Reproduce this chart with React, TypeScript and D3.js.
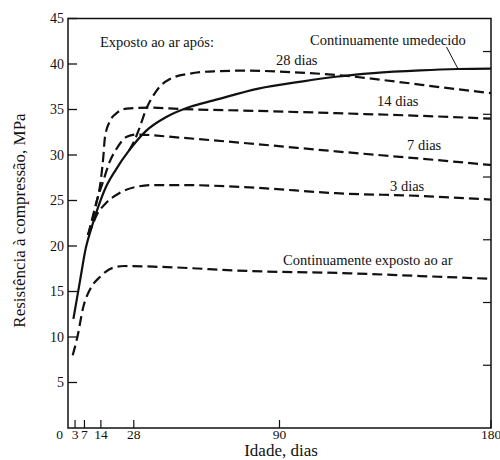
import React from "react";
import * as d3 from "d3";

// Compressive strength (MPa) versus age (days) under different curing regimes.
type Pt = [number, number];

const moistCured: Pt[] = [
  [2.3, 12.0], [5, 16.0], [7.6, 19.8], [10, 22.0], [12.6, 24.1], [16, 26.4],
  [20.4, 28.4], [26, 30.5], [33, 32.6], [42, 34.2], [52, 35.3], [62, 36.0],
  [81, 37.3], [100, 38.1], [114, 38.6], [130, 39.0], [150, 39.3], [166, 39.45], [180, 39.5],
];

const airAfter28: Pt[] = [
  [26, 30.5], [28.5, 31.7], [30.6, 33.1], [33.5, 35.2], [36, 36.4], [39, 37.5],
  [43, 38.3], [52, 38.95], [62, 39.2], [76, 39.27], [95, 39.1], [114, 38.8],
  [140, 38.05], [160, 37.4], [180, 36.8],
];

const airAfter14: Pt[] = [
  [8.5, 21.2], [9.5, 22.0], [11.9, 24.5], [14, 27.3], [15.1, 30.0], [15.7, 31.9],
  [17.8, 33.7], [20.7, 34.6], [25, 35.1], [35, 35.2], [48, 35.05], [80, 34.85],
  [114, 34.6], [150, 34.3], [180, 34.0],
];

const airAfter7: Pt[] = [
  [8.5, 21.2], [10.5, 23.2], [12.5, 25.2], [14.7, 26.9], [17.8, 29.3], [20.7, 30.7],
  [25, 32.0], [29, 32.25], [48, 31.9], [80, 31.2], [114, 30.4], [150, 29.6], [180, 28.9],
];

const airAfter3: Pt[] = [
  [8.5, 21.2], [9.8, 21.9], [12, 23.3], [16.1, 24.7], [21.8, 25.8], [28.2, 26.45],
  [36, 26.7], [48, 26.7], [80, 26.4], [114, 25.8], [150, 25.5], [180, 25.1],
];

const airOnly: Pt[] = [
  [2, 8.0], [4, 10.0], [6.5, 13.3], [9.3, 15.2], [13.6, 16.6], [19, 17.6],
  [24, 17.8], [40, 17.7], [77, 17.25], [120, 17.0], [150, 16.7], [180, 16.4],
];

const xTickValues = [0, 3, 7, 14, 28, 90, 180];
const yTickValues = [5, 10, 15, 20, 25, 30, 35, 40, 45];
const psiTickValues = [1000, 2000, 3000, 4000, 5000, 6000];
const MPA_PER_PSI = 0.006895;

const xTitle = "Idade, dias";
const yTitle = "Resistência à compressão, MPa";

const W = 500;
const H = 460;
const left = 68;
const right = 491;
const top = 18.5;
const bottom = 428;

const FONT = "'Liberation Serif', 'DejaVu Serif', serif";

export default function App() {
  const x = d3.scaleLinear().domain([0, 180]).range([left, right]);
  const y = d3.scaleLinear().domain([0, 45]).range([bottom, top]);
  const yPsi = d3
    .scaleLinear()
    .domain([0, 45 / MPA_PER_PSI])
    .range([bottom, top]);

  const line = d3
    .line<Pt>()
    .x((d) => x(d[0]))
    .y((d) => y(d[1]))
    .curve(d3.curveMonotoneX);

  const dashed = [airAfter28, airAfter14, airAfter7, airAfter3, airOnly];

  // leader from the label to the moist-cured curve
  const leaderEnd = moistCured.find((p) => p[0] === 166) as Pt;

  const annot = { fontFamily: FONT, fontSize: 14.5, fill: "#111" };

  return (
    <svg
      width={W}
      height={H}
      style={{ position: "absolute", left: 0, top: 0, background: "#fff" }}
    >
      {/* frame */}
      <rect
        x={left}
        y={top}
        width={right - left}
        height={bottom - top}
        fill="none"
        stroke="#111"
        strokeWidth={1.5}
      />

      {/* left axis ticks and labels */}
      {yTickValues.map((v) => (
        <g key={`y${v}`}>
          <line x1={left} x2={left + 9} y1={y(v)} y2={y(v)} stroke="#111" strokeWidth={1.3} />
          <text
            x={left - 4}
            y={y(v)}
            dy="0.35em"
            textAnchor="end"
            fontFamily={FONT}
            fontSize={14}
            fill="#111"
          >
            {v}
          </text>
        </g>
      ))}

      {/* right axis ticks in psi */}
      {psiTickValues.map((v) => (
        <line
          key={`p${v}`}
          x1={right}
          x2={right - 8}
          y1={yPsi(v)}
          y2={yPsi(v)}
          stroke="#111"
          strokeWidth={1.2}
        />
      ))}

      {/* bottom axis ticks and labels */}
      {xTickValues.map((v) => (
        <g key={`x${v}`}>
          {v > 0 && (
            <line x1={x(v)} x2={x(v)} y1={bottom} y2={bottom - 8} stroke="#111" strokeWidth={1.2} />
          )}
          <text
            x={v === 0 ? x(v) - 5 : x(v)}
            y={438.5}
            textAnchor={v === 0 ? "end" : "middle"}
            fontFamily={FONT}
            fontSize={13.5}
            fill="#111"
          >
            {v}
          </text>
        </g>
      ))}

      {/* axis titles */}
      <text
        x={281}
        y={456.3}
        textAnchor="middle"
        fontFamily={FONT}
        fontSize={17}
        fill="#111"
      >
        {xTitle}
      </text>
      <text
        transform={`translate(25, ${(333 + 108) / 2}) rotate(-90)`}
        textAnchor="middle"
        fontFamily={FONT}
        fontSize={17}
        fill="#111"
      >
        {yTitle}
      </text>

      {/* curves */}
      <path d={line(moistCured) ?? ""} fill="none" stroke="#111" strokeWidth={2.2} />
      {dashed.map((s, i) => (
        <path
          key={`d${i}`}
          d={line(s) ?? ""}
          fill="none"
          stroke="#111"
          strokeWidth={2.2}
          strokeDasharray="10,5"
        />
      ))}

      {/* annotations */}
      <text x={100} y={47} {...annot}>Exposto ao ar após:</text>
      <text x={310} y={45} {...annot}>Continuamente umedecido</text>
      <line
        x1={446.5}
        y1={47}
        x2={x(leaderEnd[0])}
        y2={y(leaderEnd[1])}
        stroke="#111"
        strokeWidth={1}
      />
      <text x={276} y={65} {...annot}>28 dias</text>
      <text x={377} y={106} {...annot}>14 dias</text>
      <text x={407} y={150} {...annot}>7 dias</text>
      <text x={390} y={190.5} {...annot}>3 dias</text>
      <text x={283} y={265} {...annot}>Continuamente exposto ao ar</text>
    </svg>
  );
}
